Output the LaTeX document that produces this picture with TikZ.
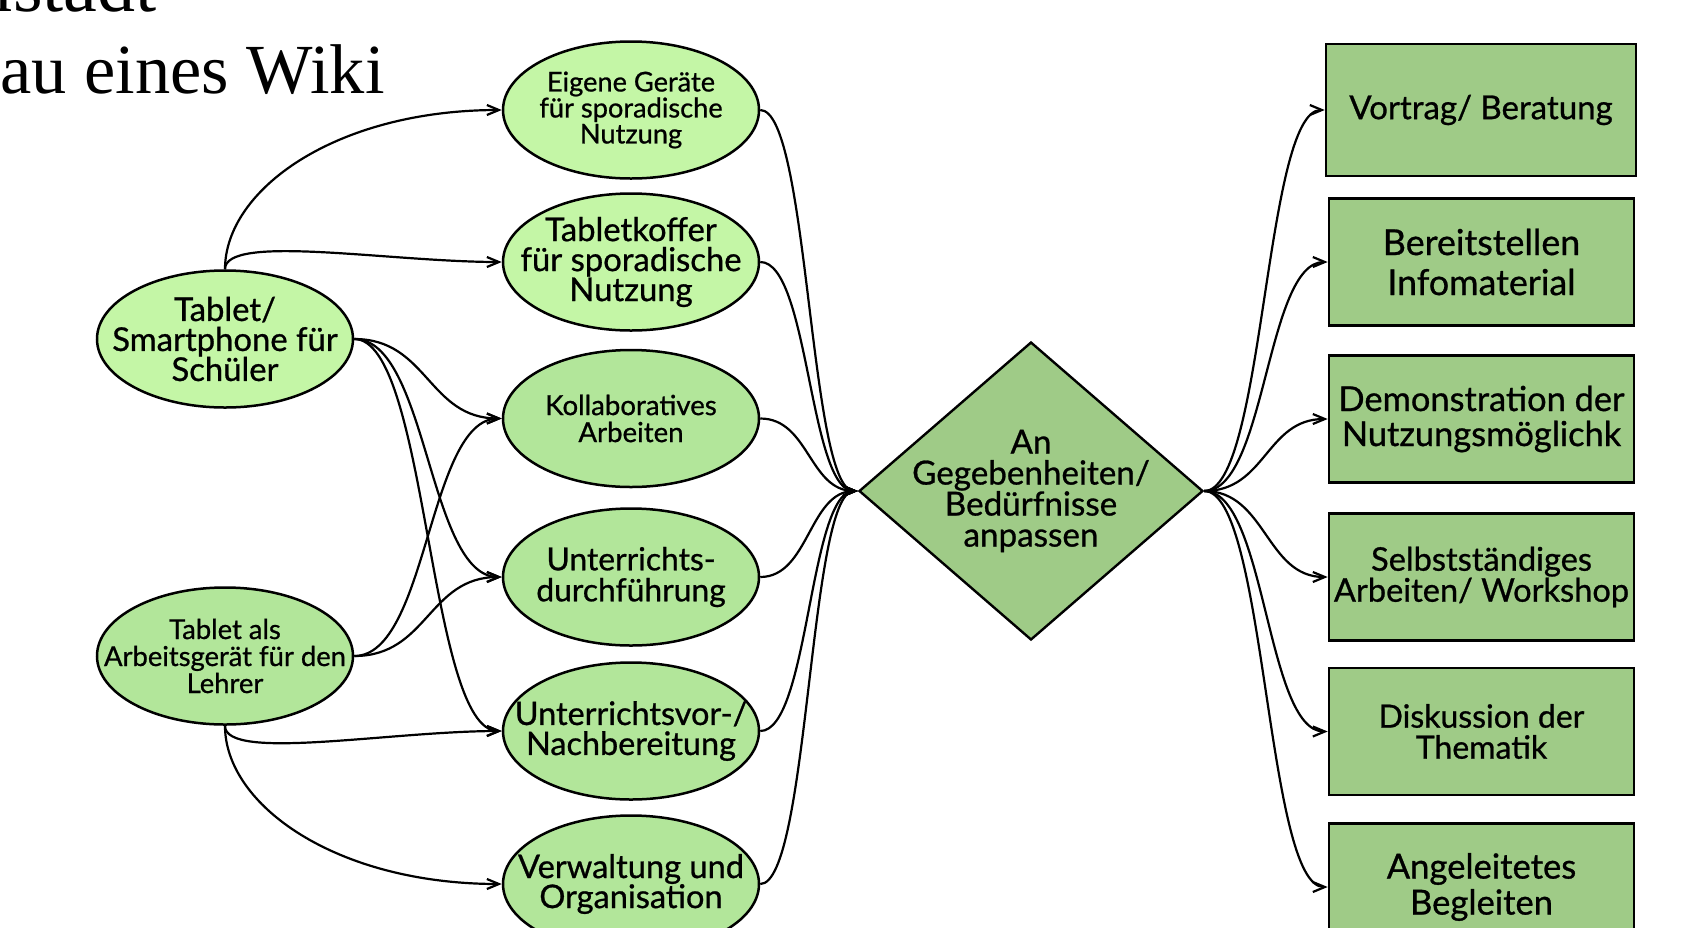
\documentclass[tikz,border=0pt]{standalone}
\usepackage{fontspec}
\setmainfont{Lato}[FakeBold=0.8]
\newfontfamily\titlefont{Liberation Serif}
\usetikzlibrary{shapes.geometric,arrows.meta,calc}
\definecolor{lightg}{HTML}{C4F6A6}
\definecolor{midg}{HTML}{B2E69A}
\definecolor{darkg}{HTML}{9FCB87}
\newcommand{\fsz}[2]{\fontsize{#1}{#2}\selectfont}
\newcommand{\hc}[2]{\draw[conn] let \p1=(#1), \p2=(#2) in (\p1) .. controls ({0.5*\x1+0.5*\x2},\y1) and ({0.5*\x1+0.5*\x2},\y2) .. (\p2);}
\begin{document}
\begin{tikzpicture}[x=0.5pt,y=-0.5pt,
  ell/.style={ellipse,draw=black,line width=1.25pt,minimum width=128pt,minimum height=68.5pt,inner sep=0pt},
  txt/.style={align=center,inner sep=0pt,text=black},
  box/.style={rectangle,draw=black,line width=1.3pt,fill=darkg,minimum width=152.5pt,minimum height=63.5pt,inner sep=0pt,align=center},
  dia/.style={diamond,draw=black,line width=1.2pt,fill=darkg,minimum width=172pt,minimum height=149pt,inner sep=0pt},
  conn/.style={draw=black,line width=1.1pt,-{Straight Barb[length=6pt,width=5pt]}},
  ttl/.style={inner sep=0pt,font=\titlefont}
]
\useasboundingbox (0,0) rectangle (1687,927);
\fill[white] (0,0) rectangle (1687,927);

% title fragments
\node[ttl,anchor=base east,font=\titlefont\fsz{38pt}{44pt}] (t1) at (157,11) {mstadt};
\node[ttl,anchor=base east,font=\titlefont\fsz{35.2pt}{40pt}] (t2) at (385,93) {au eines Wiki};

% left ellipses
\node[ell,fill=lightg] (ts) at (225,339) {};
\node[txt,font=\fsz{16.4pt}{15pt}] at (ts) {Tablet/\\Smartphone für\\Schüler};
\node[ell,fill=midg] (ta) at (225,656) {};
\node[txt,font=\fsz{13.7pt}{13.5pt}] at (ta) {Tablet als\\Arbeitsgerät für den\\Lehrer};

% middle ellipses
\node[ell,fill=lightg] (e1) at (631,110) {};
\node[txt,font=\fsz{13.6pt}{13pt}] at (e1) {Eigene Geräte\\für sporadische\\Nutzung};
\node[ell,fill=lightg] (e2) at (631,262) {};
\node[txt,font=\fsz{16.4pt}{15pt}] at (e2) {Tabletkoffer\\für sporadische\\Nutzung};
\node[ell,fill=midg] (e3) at (631,418.5) {};
\node[txt,font=\fsz{13.8pt}{13.5pt}] at (e3) {Kollaboratives\\Arbeiten};
\node[ell,fill=midg] (e4) at (631,577) {};
\node[txt,font=\fsz{15.9pt}{15.5pt}] at (e4) {Unterrichts-\\durchführung};
\node[ell,fill=midg] (e5) at (631,731) {};
\node[txt,font=\fsz{16.2pt}{15pt}] at (e5) {Unterrichtsvor-/\\Nachbereitung};
\node[ell,fill=midg] (e6) at (631,884) {};
\node[txt,font=\fsz{16.3pt}{15pt}] at (e6) {Verwaltung und\\Organisation};

% diamond
\node[dia] (d) at (1031,491) {};
\node[txt,font=\fsz{16.6pt}{15.5pt}] at (d) {An\\Gegebenheiten/\\Bedürfnisse\\anpassen};

% boxes
\node[box,minimum width=155pt,minimum height=66pt,font=\fsz{16.5pt}{20pt}] (b1) at (1481,110) {Vortrag/ Beratung};
\node[box,font=\fsz{17.9pt}{20pt}] (b2) at (1481.5,262) {Bereitstellen\\Infomaterial};
\node[box,font=\fsz{17.2pt}{17.5pt}] (b3) at (1481.5,419) {Demonstration der\\Nutzungsmöglichk};
\node[box,font=\fsz{16.3pt}{15.5pt}] (b4) at (1481.5,577) {Selbstständiges\\Arbeiten/ Workshop};
\node[box,font=\fsz{16pt}{15.5pt}] (b5) at (1481.5,731.5) {Diskussion der\\Thematik};
\node[box,font=\fsz{17.3pt}{18pt}] (b6) at (1481.5,887) {Angeleitetes\\Begleiten};

% connectors from Tablet/Smartphone
\draw[conn] let \p1=(ts.north), \p2=(e1.west) in (\p1) .. controls (\x1,{0.5*\y1+0.5*\y2}) and ({0.6*\x1+0.4*\x2},\y2) .. (\p2);
\draw[conn] let \p1=(ts.north), \p2=(e2.west) in (\p1) .. controls (\x1,{\y1+18pt}) and ({\x2-56pt},\y2) .. (\p2);
\hc{ts.east}{e3.west}
\hc{ts.east}{e4.west}
\hc{ts.east}{e5.west}

% connectors from Tablet als Arbeitsgeraet
\hc{ta.east}{e3.west}
\hc{ta.east}{e4.west}
\draw[conn] let \p1=(ta.south), \p2=(e5.west) in (\p1) .. controls (\x1,{\y1-18pt}) and ({\x2-56pt},\y2) .. (\p2);
\draw[conn] let \p1=(ta.south), \p2=(e6.west) in (\p1) .. controls (\x1,{0.5*\y1+0.5*\y2}) and ({0.6*\x1+0.4*\x2},\y2) .. (\p2);

% ellipses to diamond
\hc{e1.east}{d.west}
\hc{e2.east}{d.west}
\hc{e3.east}{d.west}
\hc{e4.east}{d.west}
\hc{e5.east}{d.west}
\hc{e6.east}{d.west}

% diamond to boxes
\hc{d.east}{b1.west}
\hc{d.east}{b2.west}
\hc{d.east}{b3.west}
\hc{d.east}{b4.west}
\hc{d.east}{b5.west}
\hc{d.east}{b6.west}
\end{tikzpicture}
\end{document}
